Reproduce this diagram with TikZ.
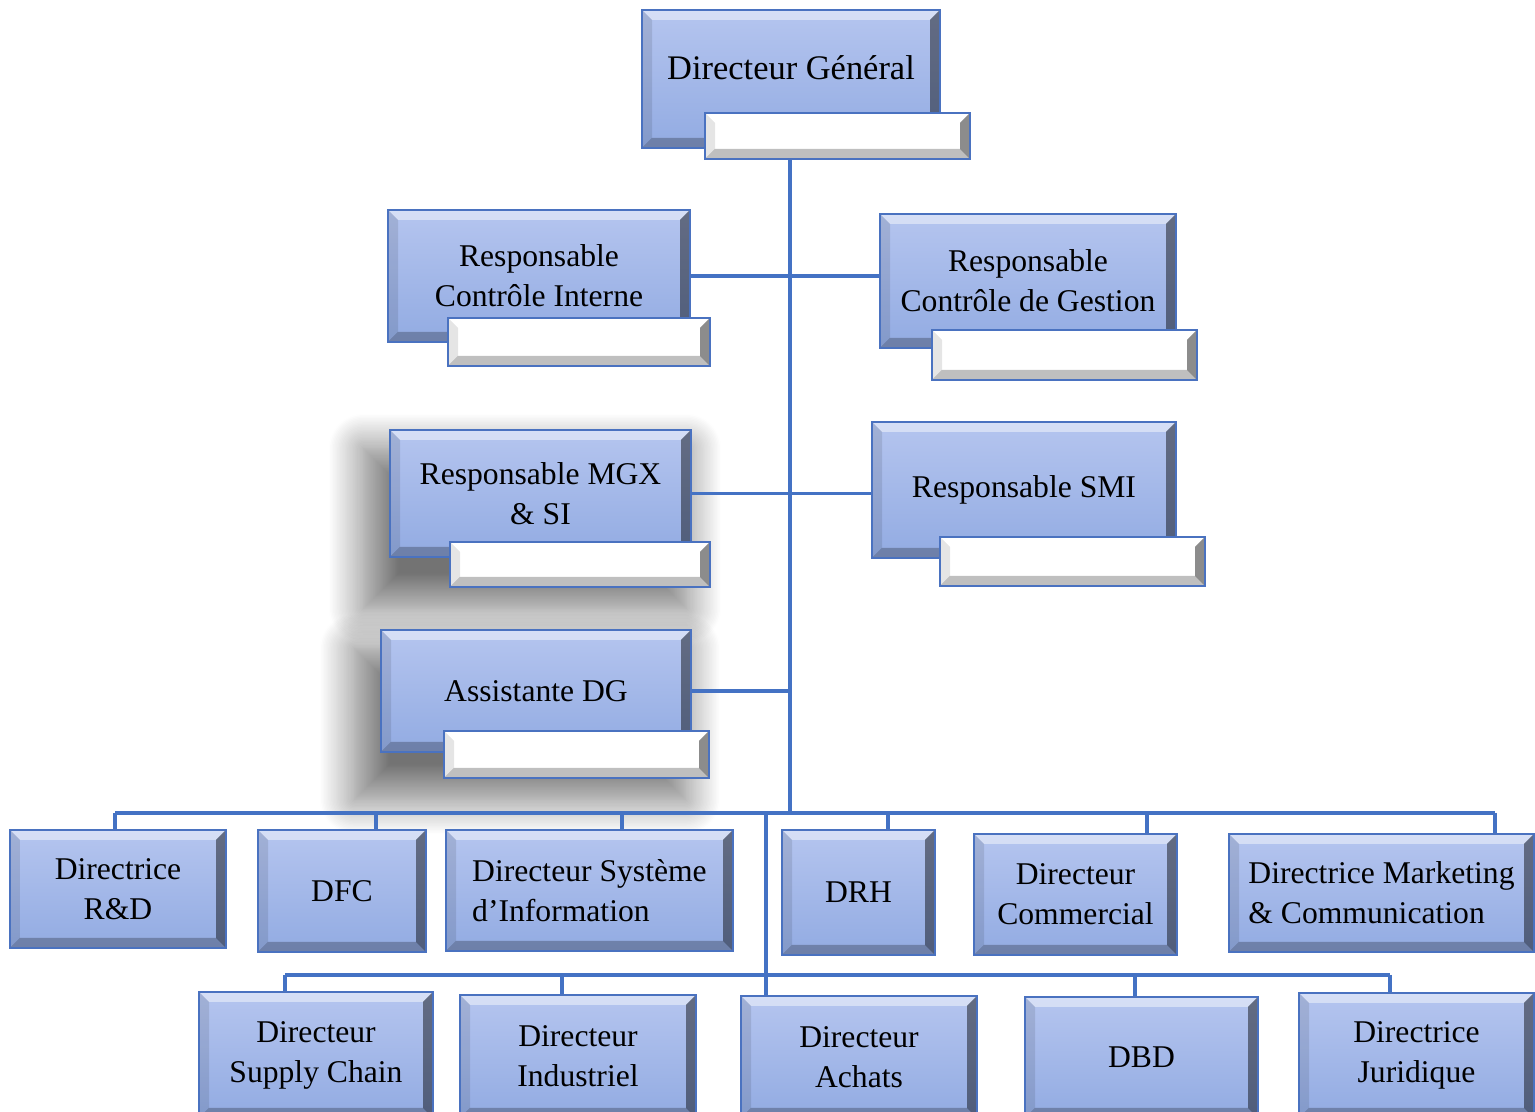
\documentclass[tikz,border=0pt]{standalone}
\usepackage{fontspec}
\setmainfont{Liberation Serif}
\usepackage{tikz}
\usetikzlibrary{positioning,shadows.blur,backgrounds}

\definecolor{unittop}{HTML}{B5C5EF}
\definecolor{unitbot}{HTML}{92ABE2}
\definecolor{unitline}{HTML}{4A72C0}
\definecolor{wireblue}{HTML}{4472C4}

\newcommand{\orgfont}{\fontsize{9}{11.4}\selectfont}
\newcommand{\boxbevel}{%
  \fill[white,opacity=.45] (path picture bounding box.north west) -- (path picture bounding box.north east)
    -- ([xshift=-1mm,yshift=-1mm]path picture bounding box.north east) -- ([xshift=1mm,yshift=-1mm]path picture bounding box.north west) -- cycle;
  \fill[black,opacity=.45] (path picture bounding box.north east) -- (path picture bounding box.south east)
    -- ([xshift=-1mm,yshift=1mm]path picture bounding box.south east) -- ([xshift=-1mm,yshift=-1mm]path picture bounding box.north east) -- cycle;
  \fill[black,opacity=.25] (path picture bounding box.south west) -- (path picture bounding box.south east)
    -- ([xshift=-1mm,yshift=1mm]path picture bounding box.south east) -- ([xshift=1mm,yshift=1mm]path picture bounding box.south west) -- cycle;
  \fill[black,opacity=.1] (path picture bounding box.north west) -- (path picture bounding box.south west)
    -- ([xshift=1mm,yshift=1mm]path picture bounding box.south west) -- ([xshift=1mm,yshift=-1mm]path picture bounding box.north west) -- cycle;
}

\tikzset{
  unit/.style={draw=unitline, line width=0.8pt, top color=unittop, bottom color=unitbot,
    font=\orgfont, align=center, inner sep=0pt, path picture={\boxbevel}},
  namebox/.style={draw=unitline, line width=0.8pt, fill=white, inner sep=0pt, path picture={\boxbevel}},
  dropshade/.style={blur shadow={shadow xshift=-2.5mm, shadow yshift=-2mm, shadow blur radius=3.5mm,
    shadow blur steps=25, shadow opacity=55}},
  wire/.style={draw=wireblue, line width=1.1pt},
}

\begin{document}
\begin{tikzpicture}
\useasboundingbox (0,0) rectangle (15.35,11.12);

% direction generale
\node[unit, minimum width=2.98cm, minimum height=1.38cm] (dg) at (7.91,10.33) {};
\node[font=\fontsize{9.8}{11.4}\selectfont] (dgtext) at (7.91,10.44) {Directeur Général};
\node[namebox, minimum width=2.65cm, minimum height=0.46cm] (dgname) at (8.375,9.76) {};

% rattachements directs
\node[unit, minimum width=3.02cm, minimum height=1.32cm] (rci) at (5.39,8.36) {Responsable\\Contrôle Interne};
\node[namebox, minimum width=2.62cm, minimum height=0.48cm] (rciname) at (5.79,7.70) {};
\node[unit, minimum width=2.96cm, minimum height=1.34cm] (rcg) at (10.28,8.31) {Responsable\\Contrôle de Gestion};
\node[namebox, minimum width=2.65cm, minimum height=0.50cm] (rcgname) at (10.645,7.57) {};
\node[unit, minimum width=3.01cm, minimum height=1.27cm] (mgx) at (5.405,6.185) {Responsable MGX\\\& SI};
\node[namebox, minimum width=2.60cm, minimum height=0.45cm] (mgxname) at (5.80,5.475) {};
\node[unit, minimum width=3.04cm, minimum height=1.36cm] (smi) at (10.24,6.22) {Responsable SMI};
\node[namebox, minimum width=2.65cm, minimum height=0.49cm] (sminame) at (10.725,5.505) {};
\node[unit, minimum width=3.10cm, minimum height=1.22cm] (adg) at (5.36,4.21) {Assistante DG};
\node[namebox, minimum width=2.65cm, minimum height=0.47cm] (adgname) at (5.765,3.575) {};

% ombres portees
\begin{scope}[on background layer]
  \path[dropshade] (mgx.north west) rectangle (mgxname.south east);
  \path[dropshade] (adg.north west) rectangle (adgname.south east);
\end{scope}

% directions, premiere ligne
\node[unit, minimum width=2.16cm, minimum height=1.18cm] (drd) at (1.18,2.23) {Directrice\\R\&D};
\node[unit, minimum width=1.68cm, minimum height=1.22cm] (dfc) at (3.42,2.21) {DFC};
\node[unit, align=left, minimum width=2.87cm, minimum height=1.21cm] (dsi) at (5.895,2.215) {Directeur Système\\d’Information};
\node[unit, minimum width=1.53cm, minimum height=1.25cm] (drh) at (8.585,2.195) {DRH};
\node[unit, minimum width=2.03cm, minimum height=1.21cm] (dco) at (10.755,2.175) {Directeur\\Commercial};
\node[unit, align=left, minimum width=3.05cm, minimum height=1.18cm] (dmc) at (13.815,2.19) {Directrice Marketing\\\& Communication};

% directions, deuxieme ligne
\node[unit, minimum width=2.34cm, minimum height=1.26cm] (dsc) at (3.16,0.57) {Directeur\\Supply Chain};
\node[unit, minimum width=2.36cm, minimum height=1.23cm] (din) at (5.78,0.555) {Directeur\\Industriel};
\node[unit, minimum width=2.36cm, minimum height=1.22cm] (dac) at (8.59,0.55) {Directeur\\Achats};
\node[unit, minimum width=2.33cm, minimum height=1.21cm] (dbd) at (11.415,0.545) {DBD};
\node[unit, minimum width=2.35cm, minimum height=1.25cm] (dju) at (14.165,0.565) {Directrice\\Juridique};

% liaisons
\coordinate (hub) at (7.90,2.99);
\coordinate (hubtwo) at (7.66,2.99);
\draw[wire] (dgname.south -| hub) -- (hub);
\draw[wire] (rci.east) -- (rci.east -| rcg.west);
\draw[wire] (mgx.east) -- (mgx.east -| smi.west);
\draw[wire] (adg.east) -- (adg.east -| hub);

\coordinate (b1-drd) at (1.15,2.99);
\coordinate (b1-dfc) at (3.76,2.99);
\coordinate (b1-dsi) at (6.22,2.99);
\coordinate (b1-drh) at (8.88,2.99);
\coordinate (b1-dco) at (11.47,2.99);
\coordinate (b1-dmc) at (14.95,2.99);
\draw[wire] (b1-drd) -- (b1-dmc);
\foreach \n in {drd,dfc,dsi,drh,dco,dmc}
  \draw[wire] (b1-\n) -- (b1-\n |- \n.north);

\draw[wire] (hubtwo) -- (hubtwo |- dac.north);
\coordinate (b2-dsc) at (2.85,1.37);
\coordinate (b2-din) at (5.62,1.37);
\coordinate (b2-dbd) at (11.35,1.37);
\coordinate (b2-dju) at (13.90,1.37);
\draw[wire] (b2-dsc) -- (b2-dju);
\foreach \n in {dsc,din,dbd,dju}
  \draw[wire] (b2-\n) -- (b2-\n |- \n.north);
\end{tikzpicture}
\end{document}
